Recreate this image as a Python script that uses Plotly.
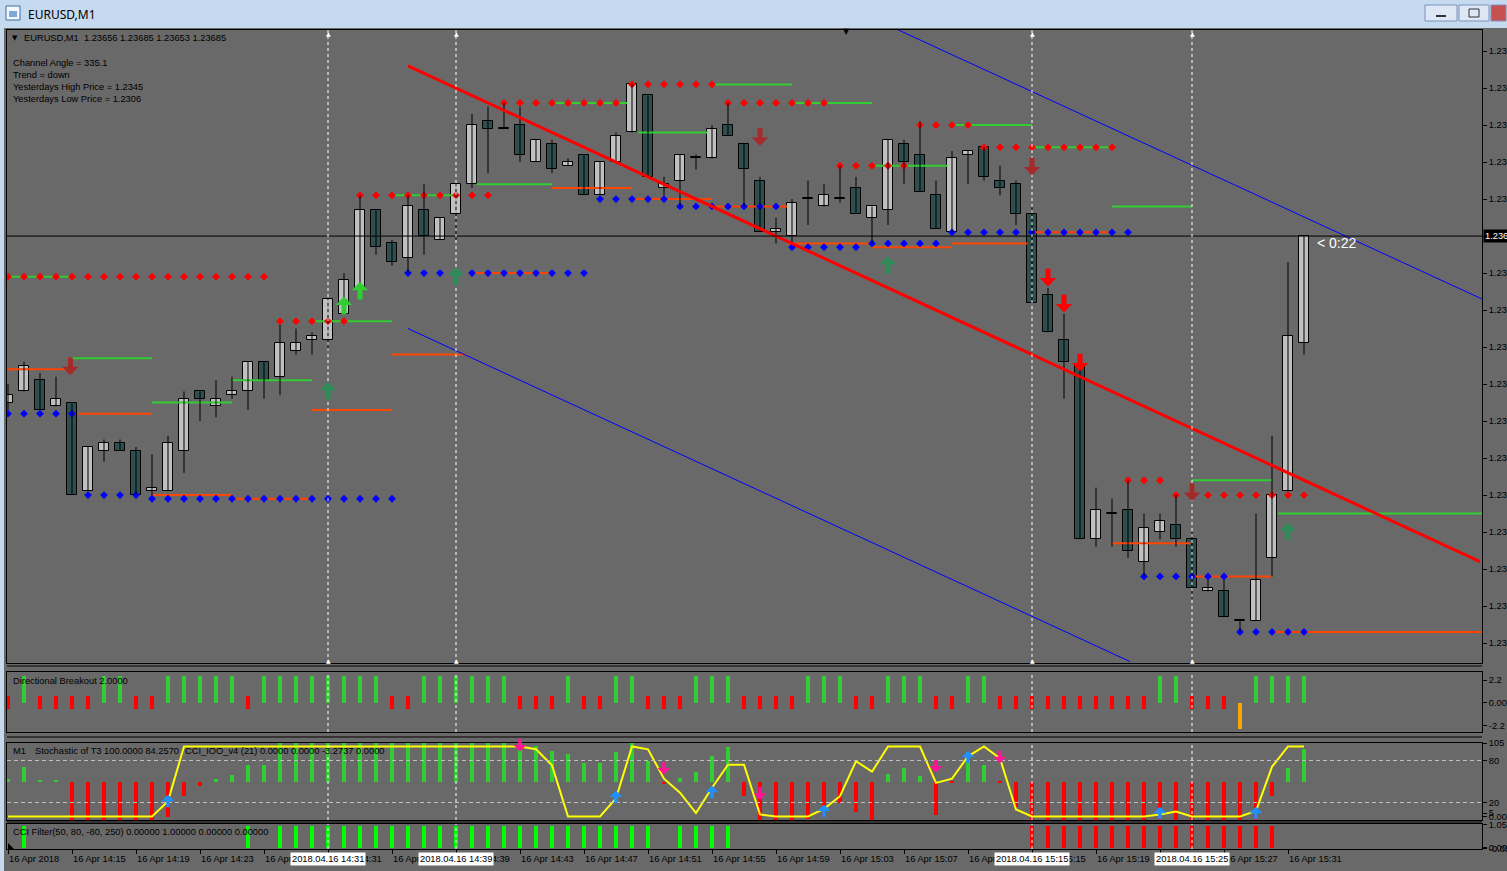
import plotly.graph_objects as go

W, H = 1507, 871

# ---------------- data (EURUSD M1, 16 Apr 2018, bars 14:11 .. 15:32) ----------------
bars = list(range(82))

opens = [1.23640, 1.23643, 1.23646, 1.23639, 1.23640, 1.23616, 1.23627, 1.23629, 1.23627, 1.23616,
         1.23616, 1.23627, 1.23643, 1.23639, 1.23642, 1.23643, 1.23651, 1.23647, 1.23654, 1.23657,
         1.23657, 1.23664, 1.23671, 1.23692, 1.23683, 1.23679, 1.23692, 1.23684, 1.23691, 1.23699,
         1.23716, 1.23714, 1.23715, 1.23705, 1.23710, 1.23704, 1.23707, 1.23696, 1.23705, 1.23713,
         1.23723, 1.23698, 1.23700, 1.23706, 1.23706, 1.23715, 1.23710, 1.23700, 1.23686, 1.23685,
         1.23695, 1.23693, 1.23695, 1.23698, 1.23690, 1.23692, 1.23710, 1.23707, 1.23696, 1.23686,
         1.23707, 1.23709, 1.23700, 1.23699, 1.23691, 1.23669, 1.23657, 1.23650, 1.23603, 1.23610,
         1.23611, 1.23597, 1.23605, 1.23607, 1.23603, 1.23589, 1.23589, 1.23581, 1.23581, 1.23598,
         1.23616, 1.23656]
highs = [1.23645, 1.23651, 1.23648, 1.23647, 1.23640, 1.23628, 1.23630, 1.23630, 1.23628, 1.23626,
         1.23631, 1.23643, 1.23643, 1.23646, 1.23647, 1.23651, 1.23651, 1.23661, 1.23660, 1.23659,
         1.23668, 1.23675, 1.23696, 1.23692, 1.23684, 1.23696, 1.23699, 1.23690, 1.23699, 1.23718,
         1.23720, 1.23721, 1.23720, 1.23711, 1.23711, 1.23706, 1.23707, 1.23705, 1.23713, 1.23726,
         1.23723, 1.23701, 1.23707, 1.23707, 1.23715, 1.23721, 1.23710, 1.23701, 1.23690, 1.23695,
         1.23700, 1.23699, 1.23704, 1.23701, 1.23693, 1.23711, 1.23711, 1.23716, 1.23700, 1.23708,
         1.23708, 1.23709, 1.23704, 1.23700, 1.23693, 1.23671, 1.23664, 1.23650, 1.23617, 1.23614,
         1.23619, 1.23610, 1.23610, 1.23615, 1.23605, 1.23592, 1.23592, 1.23581, 1.23610, 1.23631,
         1.23678, 1.23685]
lows = [1.23638, 1.23643, 1.23638, 1.23639, 1.23615, 1.23616, 1.23624, 1.23627, 1.23615, 1.23615,
        1.23616, 1.23621, 1.23635, 1.23636, 1.23641, 1.23638, 1.23641, 1.23642, 1.23653, 1.23653,
        1.23654, 1.23664, 1.23671, 1.23680, 1.23677, 1.23675, 1.23680, 1.23684, 1.23684, 1.23698,
        1.23702, 1.23714, 1.23705, 1.23705, 1.23702, 1.23704, 1.23696, 1.23696, 1.23705, 1.23713,
        1.23701, 1.23696, 1.23693, 1.23703, 1.23706, 1.23712, 1.23693, 1.23686, 1.23683, 1.23683,
        1.23688, 1.23693, 1.23694, 1.23691, 1.23683, 1.23688, 1.23699, 1.23697, 1.23687, 1.23686,
        1.23699, 1.23700, 1.23696, 1.23688, 1.23667, 1.23659, 1.23641, 1.23603, 1.23601, 1.23601,
        1.23598, 1.23593, 1.23603, 1.23601, 1.23587, 1.23589, 1.23582, 1.23578, 1.23581, 1.23593,
        1.23616, 1.23653]
closes = [1.23642, 1.23650, 1.23638, 1.23641, 1.23615, 1.23628, 1.23629, 1.23627, 1.23615, 1.23617,
          1.23629, 1.23641, 1.23641, 1.23641, 1.23643, 1.23651, 1.23646, 1.23656, 1.23656, 1.23658,
          1.23668, 1.23673, 1.23692, 1.23682, 1.23678, 1.23693, 1.23685, 1.23690, 1.23699, 1.23715,
          1.23714, 1.23714, 1.23707, 1.23711, 1.23703, 1.23705, 1.23696, 1.23705, 1.23712, 1.23726,
          1.23701, 1.23699, 1.23707, 1.23706, 1.23714, 1.23712, 1.23703, 1.23686, 1.23687, 1.23694,
          1.23695, 1.23696, 1.23695, 1.23691, 1.23693, 1.23711, 1.23705, 1.23697, 1.23687, 1.23706,
          1.23708, 1.23701, 1.23698, 1.23691, 1.23667, 1.23659, 1.23651, 1.23603, 1.23611, 1.23610,
          1.23600, 1.23606, 1.23608, 1.23603, 1.23590, 1.23590, 1.23582, 1.23581, 1.23592, 1.23615,
          1.23658, 1.23685]
bid_price = 1.23685

# support / resistance dot rows: (first bar, last bar, price)
resistance_dots = [(0, 16, 1.23674), (17, 21, 1.23662), (22, 30, 1.23696), (31, 38, 1.23721),
                   (39, 44, 1.23726), (45, 51, 1.23721), (52, 56, 1.23704), (57, 60, 1.23715),
                   (61, 69, 1.23709), (70, 72, 1.23619), (73, 81, 1.23615)]
support_dots = [(0, 4, 1.23637), (5, 8, 1.23615), (9, 24, 1.23614), (25, 36, 1.23675),
                (37, 41, 1.23695), (42, 48, 1.23693), (49, 53, 1.23682), (54, 58, 1.23683),
                (59, 70, 1.23686), (71, 76, 1.23593), (77, 81, 1.23578)]
# level segments: (from bar, to bar, price)
green_levels = [(0, 4, 1.23674), (4, 9, 1.23652), (9, 14, 1.23640), (14, 19, 1.23646), (19, 24, 1.23662),
                (24, 28.25, 1.23696), (29.3, 34, 1.23699), (34, 38.7, 1.23721), (39.4, 43.7, 1.23713),
                (44, 49, 1.23726), (49, 54, 1.23721), (54, 58.7, 1.23704), (59, 64, 1.23715),
                (64, 69, 1.23709), (69, 74, 1.23693), (74, 79, 1.23619), (79.4, 92.2, 1.23610)]
orange_levels = [(0, 3.7, 1.23649), (4.4, 9, 1.23637), (9, 14, 1.23615), (14, 19, 1.23614), (19, 24, 1.23638),
                 (24, 28.6, 1.23653), (29, 34, 1.23675), (34, 39, 1.23698), (39, 44, 1.23695),
                 (44, 48.7, 1.23693), (48.7, 54, 1.23683), (54, 59, 1.23682), (59, 63.7, 1.23683),
                 (64, 69, 1.23686), (69, 73.9, 1.23602), (74, 79, 1.23593), (79, 92.2, 1.23578)]

# regression trend line and channel (bar, price)
trend_bars, trend_prices = [25, 92], [1.23731, 1.23597]
upper_bars, upper_prices = [55.5, 92.125], [1.23741, 1.23668]
lower_bars, lower_prices = [25, 70.125], [1.23660, 1.23570]

# signal arrows (bar, price at arrow centre)
sell_dark_bars, sell_dark_prices = [3.9, 47, 64, 74], [1.23650, 1.23712, 1.23704, 1.23616]
sell_red_bars, sell_red_prices = [65, 66, 67], [1.23674, 1.23667, 1.23651]
buy_lime_bars, buy_lime_prices = [21, 22], [1.23666, 1.23670]
buy_dark_bars, buy_dark_prices = [20, 28, 55, 80], [1.23643, 1.23674, 1.23677, 1.23605]

# Directional Breakout: g = up, r = down, o = exhaustion
db_state = list("rgrrrrggrr" "gggggrgggg" "ggggrrgggg" "ggrrrgrrgg" "rrrgggrrrr"
                "gggrrgggrr" "ggrrrrrrrr" "rrggrrrogg" "gg")
db_up, db_dn_top, db_dn_bot, db_exh = 2.58, 0.67, -0.57, -2.5

# CCI_IOO histogram (centred at 50) and Stochastic of T3 line
cci_hist = [54, 71, 52, 52, -5, -5, -5, -5, -5, -5,
            0, 30, 44, 54, 60, 74, 74, 105, 105, 105,
            105, 105, 105, 105, 105, 105, 105, 105, 105, 105,
            105, 105, 105, 101, 93, 90, 77, 77, 92, 105,
            80, 46, 55, 64, 87, 100, 30, -5, -5, -5,
            -3, 0, 20, 6, -5, 61, 70, 58, 2, 48,
            81, 74, 48, 14, -5, -5, -5, -5, -5, -5,
            -5, -5, -5, -5, -5, -5, -5, -5, -5, 30,
            69, 96]
stoch_t3 = [0, 0, 0, 0, 0, 0, 0, 0, 0, 0,
            22, 100, 100, 100, 100, 100, 100, 100, 100, 100,
            100, 100, 100, 100, 100, 100, 100, 100, 100, 100,
            100, 100, 100, 96, 73, 0, 0, 0, 26, 100,
            96, 54, 34, 5, 41, 74, 74, 3, 0, 0,
            0, 11, 29, 79, 64, 100, 100, 100, 48, 54,
            86, 100, 83, 10, 0, 0, 0, 0, 0, 0,
            0, 0, 3, 7, 0, 0, 0, 0, 8, 71,
            100, 100]
stoch_up_bars, stoch_up_vals = [10, 38, 44, 51, 60, 72, 78], [21, 27, 34, 7, 84, 4, 4]
stoch_dn_bars, stoch_dn_vals = [32, 41, 47, 58, 62, 74], [103, 70, 34, 73, 86, 3]

# CCI Filter: 1 = bullish, -1 = bearish, 0 = none
cci_filter = ([0, 1] + [0] * 13 + [1, 0] + [1] * 24 + [0] + [1] * 4 + [0] * 18 + [-1] * 16 + [0] * 2)

# axis labels
price_ticks = [1.23735, 1.23725, 1.23715, 1.23705, 1.23695, 1.23685, 1.23675, 1.23665, 1.23655,
               1.23645, 1.23635, 1.23625, 1.23615, 1.23605, 1.23595, 1.23585, 1.23575]
time_tick_bars = [0, 4, 8, 12, 16, 20, 24, 28, 32, 36, 40, 44, 48, 52, 56, 60, 64, 68, 72, 76, 80]
time_tick_labels = ["16 Apr 2018", "16 Apr 14:15", "16 Apr 14:19", "16 Apr 14:23", "16 Apr 14:27",
                    "16 Apr 14:31", "16 Apr 14:35", "16 Apr 14:39", "16 Apr 14:43", "16 Apr 14:47",
                    "16 Apr 14:51", "16 Apr 14:55", "16 Apr 14:59", "16 Apr 15:03", "16 Apr 15:07",
                    "16 Apr 15:11", "16 Apr 15:15", "16 Apr 15:19", "16 Apr 15:23", "16 Apr 15:27",
                    "16 Apr 15:31"]
vline_bars = [20, 28, 64, 74]
vline_labels = ["2018.04.16 14:31", "2018.04.16 14:39", "2018.04.16 15:15", "2018.04.16 15:25"]

# ---------------- figure ----------------
FONT = "Liberation Sans"
FS = 9.3
BG = "#696969"
fig = go.Figure()

Y_MAIN = [1.235696, 1.237407]
Y_STO = [-5, 105]
MAIN_PX = 663 - 30
STO_PX = 820 - 743
P_PER_PX = (Y_MAIN[1] - Y_MAIN[0]) / MAIN_PX
S_PER_PX = (Y_STO[1] - Y_STO[0]) / STO_PX


def segs(levels):
    xs, ys = [], []
    for a, b, p in levels:
        xs += [a, b, None]
        ys += [p, p, None]
    return xs, ys


def dotrow(rows):
    xs, ys = [], []
    for a, b, p in rows:
        for k in range(a, b + 1):
            xs.append(k)
            ys.append(p)
    return xs, ys


def sc(**kw):
    kw.setdefault("hoverinfo", "skip")
    fig.add_trace(go.Scatter(**kw))


# main: levels
x_, y_ = segs(orange_levels)
sc(x=x_, y=y_, mode="lines", line=dict(color="#FF4500", width=2), xaxis="x", yaxis="y")
x_, y_ = segs(green_levels)
sc(x=x_, y=y_, mode="lines", line=dict(color="#32CD32", width=2), xaxis="x", yaxis="y")
x_, y_ = dotrow(resistance_dots)
sc(x=x_, y=y_, mode="markers", marker=dict(symbol="diamond", size=6, color="#FF0000"), xaxis="x", yaxis="y")
x_, y_ = dotrow(support_dots)
sc(x=x_, y=y_, mode="markers", marker=dict(symbol="diamond", size=6, color="#0000FF"), xaxis="x", yaxis="y")

# candles
wx, wy = [], []
for k, h, l in zip(bars, highs, lows):
    wx += [k, k, None]
    wy += [l, h, None]
sc(x=wx, y=wy, mode="lines", line=dict(color="black", width=1), xaxis="x", yaxis="y")

MINH = 0.0000025
bull = [(k, o, c) for k, o, c in zip(bars, opens, closes) if c >= o]
bear = [(k, o, c) for k, o, c in zip(bars, opens, closes) if c < o]
fig.add_trace(go.Bar(x=[b[0] for b in bull], base=[b[1] for b in bull],
                     y=[max(b[2] - b[1], MINH) for b in bull], width=0.62,
                     marker=dict(color="#C0C0C0", line=dict(color="black", width=1)),
                     xaxis="x", yaxis="y", hoverinfo="skip"))
fig.add_trace(go.Bar(x=[b[0] for b in bear], base=[b[2] for b in bear],
                     y=[max(b[1] - b[2], MINH) for b in bear], width=0.62,
                     marker=dict(color="#2F4F4F", line=dict(color="black", width=1)),
                     xaxis="x", yaxis="y", hoverinfo="skip"))

# trend + channel
sc(x=upper_bars, y=upper_prices, mode="lines", line=dict(color="#0000FF", width=1), xaxis="x", yaxis="y")
sc(x=lower_bars, y=lower_prices, mode="lines", line=dict(color="#0000FF", width=1), xaxis="x", yaxis="y")
sc(x=trend_bars, y=trend_prices, mode="lines", line=dict(color="#FF0000", width=3), xaxis="x", yaxis="y")

# Directional Breakout panel
gk = [k for k, s in zip(bars, db_state) if s == "g"]
rk = [k for k, s in zip(bars, db_state) if s == "r"]
okk = [k for k, s in zip(bars, db_state) if s == "o"]
fig.add_trace(go.Bar(x=gk, y=[db_up] * len(gk), base=0, width=0.19, marker=dict(color="#32CD32", line=dict(width=0)),
                     xaxis="x2", yaxis="y2", hoverinfo="skip"))
fig.add_trace(go.Bar(x=rk, y=[db_dn_top - db_dn_bot] * len(rk), base=db_dn_bot, width=0.19,
                     marker=dict(color="#FF0000", line=dict(width=0)), xaxis="x2", yaxis="y2", hoverinfo="skip"))
fig.add_trace(go.Bar(x=okk, y=[db_exh] * len(okk), base=0, width=0.19, marker=dict(color="#FFA500", line=dict(width=0)),
                     xaxis="x2", yaxis="y2", hoverinfo="skip"))

# Stochastic / CCI_IOO panel
hg = [(k, v) for k, v in zip(bars, cci_hist) if v > 50]
hr = [(k, v) for k, v in zip(bars, cci_hist) if v <= 50]
fig.add_trace(go.Bar(x=[a for a, _ in hg], y=[v - 50 for _, v in hg], base=50, width=0.19,
                     marker=dict(color="#32CD32", line=dict(width=0)), xaxis="x3", yaxis="y3", hoverinfo="skip"))
fig.add_trace(go.Bar(x=[a for a, _ in hr], y=[v - 50 for _, v in hr], base=50, width=0.19,
                     marker=dict(color="#FF0000", line=dict(width=0)), xaxis="x3", yaxis="y3", hoverinfo="skip"))
sc(x=bars, y=stoch_t3, mode="lines", line=dict(color="#FFFF00", width=2), xaxis="x3", yaxis="y3")

# CCI filter panel
fg = [k for k, v in zip(bars, cci_filter) if v > 0]
fr = [k for k, v in zip(bars, cci_filter) if v < 0]
fig.add_trace(go.Bar(x=fg, y=[1] * len(fg), base=0, width=0.3, marker=dict(color="#00FF00", line=dict(width=0)),
                     xaxis="x4", yaxis="y4", hoverinfo="skip"))
fig.add_trace(go.Bar(x=fr, y=[1] * len(fr), base=0, width=0.3, marker=dict(color="#FF0000", line=dict(width=0)),
                     xaxis="x4", yaxis="y4", hoverinfo="skip"))

# ---------------- layout ----------------
def py(p):
    return 1 - p / H


def px(p):
    return p / W


XDOM = [px(7), px(1482)]
XR = [-0.0625, 92.125]
TF = dict(family=FONT, size=FS, color="black")
xc = dict(domain=XDOM, range=XR, showgrid=False, zeroline=False, showline=True, mirror=True,
          linecolor="black", linewidth=1, showticklabels=False, fixedrange=True, automargin=False)
yc = dict(side="right", showgrid=False, zeroline=False, showline=True, mirror=True, linecolor="black",
          linewidth=1, ticks="outside", ticklen=4, tickcolor="black", tickfont=TF, fixedrange=True,
          automargin=False)

fig.update_layout(
    width=W, height=H, autosize=False, margin=dict(l=0, r=0, t=0, b=0, pad=0, autoexpand=False),
    paper_bgcolor=BG, plot_bgcolor=BG, showlegend=False, barmode="overlay", bargap=0,
    xaxis=dict(anchor="y", **xc),
    xaxis2=dict(anchor="y2", **xc),
    xaxis3=dict(anchor="y3", **xc),
    xaxis4=dict(anchor="y4", ticks="outside", tickvals=time_tick_bars, ticklen=4, tickcolor="black", **xc),
    yaxis=dict(anchor="x", domain=[py(663), py(30)], range=Y_MAIN, tickvals=price_ticks,
               ticktext=[f"{v:.5f}" for v in price_ticks], **yc),
    yaxis2=dict(anchor="x2", domain=[py(732), py(672)], range=[-2.78, 2.97], tickvals=[2.2, 0, -2.2],
                ticktext=["2.2", "0.00", "-2.2"], **yc),
    yaxis3=dict(anchor="x3", domain=[py(820), py(743)], range=Y_STO, tickvals=[105, 80, 20, 5, 0],
                ticktext=["105", "80", "20", "5", "0.00"], **yc),
    yaxis4=dict(anchor="x4", domain=[py(849), py(824)], range=[-0.059, 1.077], tickvals=[1.05, -0.05, 0],
                ticktext=["1.05", "-0.05", "0.00"], **yc),
)

shapes = []
# window chrome
shapes.append(dict(type="rect", xref="paper", yref="paper", x0=0, x1=1, y0=py(28), y1=1,
                   fillcolor="#C5D9EF", line=dict(width=0), layer="below"))
shapes.append(dict(type="rect", xref="paper", yref="paper", x0=0, x1=px(4), y0=0, y1=py(28),
                   fillcolor="#C5D9EF", line=dict(width=0), layer="below"))
shapes.append(dict(type="rect", xref="paper", yref="paper", x0=px(6), x1=px(20), y0=py(20), y1=py(6),
                   fillcolor="#F4F8FE", line=dict(color="#3A6EA5", width=1)))
shapes.append(dict(type="rect", xref="paper", yref="paper", x0=px(9), x1=px(17), y0=py(17), y1=py(11),
                   fillcolor="#7FA7D9", line=dict(width=0)))
for x0, x1, fc in [(1425, 1457, "#DDE7F5"), (1459, 1489, "#DDE7F5"), (1491, 1506, "#C75050")]:
    shapes.append(dict(type="rect", xref="paper", yref="paper", x0=px(x0), x1=px(x1), y0=py(21), y1=py(5),
                       fillcolor=fc, line=dict(color="#7A92B8", width=1)))
shapes.append(dict(type="rect", xref="paper", yref="paper", x0=px(1436), x1=px(1446), y0=py(17), y1=py(15),
                   fillcolor="#333333", line=dict(width=0)))
shapes.append(dict(type="rect", xref="paper", yref="paper", x0=px(1469), x1=px(1479), y0=py(17), y1=py(9),
                   fillcolor="rgba(0,0,0,0)", line=dict(color="#333333", width=1)))
# panel separators
for yy in [666, 737, 822]:
    shapes.append(dict(type="line", xref="paper", yref="paper", x0=XDOM[0], x1=XDOM[1], y0=py(yy), y1=py(yy),
                       line=dict(color="black", width=1)))
# bid line
shapes.append(dict(type="line", xref="x domain", yref="y", x0=0, x1=1, y0=bid_price, y1=bid_price,
                   line=dict(color="black", width=1)))
# stochastic levels
for lv in [80, 20]:
    shapes.append(dict(type="line", xref="x3 domain", yref="y3", x0=0, x1=1, y0=lv, y1=lv,
                       line=dict(color="#C0C0C0", width=1, dash="4px,3px")))
# vertical dashed markers
for b in vline_bars:
    for ax in ["y", "y2", "y3", "y4"]:
        shapes.append(dict(type="line", xref="x", yref=f"{ax} domain", x0=b, x1=b, y0=0, y1=1,
                           line=dict(color="white", width=1, dash="3px,3px")))
# corner mark of filter panel
shapes.append(dict(type="path", xref="paper", yref="paper",
                   path=f"M {px(8)},{py(843)} L {px(8)},{py(849)} L {px(14)},{py(849)} Z",
                   fillcolor="black", line=dict(width=0)))
fig.update_layout(shapes=shapes)

ann = []


def A(x, y, text, xref="paper", yref="paper", size=FS, color="black", xanchor="left", family=FONT, **kw):
    ann.append(dict(x=x, y=y, xref=xref, yref=yref, text=text, showarrow=False, xanchor=xanchor,
                    yanchor="middle", font=dict(family=family, size=size, color=color), **kw))


def arrow(x, yc, up, color, yref, per_px, length, width, size):
    half = length / 2.0
    tip = yc + half * per_px if up else yc - half * per_px
    ann.append(dict(x=x, y=tip, xref="x" if yref == "y" else "x3", yref=yref, text="", showarrow=True,
                    ax=0, ay=length if up else -length, arrowhead=1, arrowsize=size, arrowwidth=width,
                    arrowcolor=color, standoff=0, startstandoff=0, font=dict(size=1)))


for xs, ys, up, col in [(sell_dark_bars, sell_dark_prices, False, "#A52A2A"),
                        (sell_red_bars, sell_red_prices, False, "#FF0000"),
                        (buy_lime_bars, buy_lime_prices, True, "#32CD32"),
                        (buy_dark_bars, buy_dark_prices, True, "#2E8B57")]:
    for xv, yv in zip(xs, ys):
        arrow(xv, yv, up, col, "y", P_PER_PX, 19, 5, 0.55)
for xv, yv in zip(stoch_up_bars, stoch_up_vals):
    arrow(xv, yv, True, "#1E90FF", "y3", S_PER_PX, 14, 3.5, 0.62)
for xv, yv in zip(stoch_dn_bars, stoch_dn_vals):
    arrow(xv, yv, False, "#FF1493", "y3", S_PER_PX, 14, 3.5, 0.62)

A(px(26), py(14), "EURUSD,M1", size=12, family="Noto Sans")
A(px(10), py(38), "▼", size=7, family="DejaVu Sans")
A(px(22), py(38), "EURUSD,M1\u00a0\u00a01.23656 1.23685 1.23653 1.23685")
for yy, t in [(63, "Channel Angle = 335.1"), (75, "Trend = down"),
              (87, "Yesterdays High Price = 1.2345"), (99, "Yesterdays Low Price = 1.2306")]:
    A(px(11), py(yy), t)
A(px(11), py(681), "Directional Breakout 2.0000")
A(px(11), py(751), "M1")
A(px(33), py(751), "Stochastic of T3 100.0000 84.2570")
A(px(183), py(751), "CCI_IOO_v4 (21) 0.0000 0.0000 -3.2737 0.0000")
A(px(11), py(832), "CCI Filter(50, 80, -80, 250) 0.00000 1.00000 0.00000 0.00000")
A(81.7, 1.23683, "< 0:22", xref="x", yref="y", size=14, color="white")
A(px(1483), bid_price, "1.23685", yref="y", color="white", bgcolor="black", borderpad=1)
A(52.375, py(32), "▼", xref="x", size=8, xanchor="center", family="DejaVu Sans")
for b in vline_bars:
    A(b, py(33), "▲", xref="x", size=6, color="white", xanchor="center", family="DejaVu Sans")
    A(b, py(660), "▲", xref="x", size=6, color="white", xanchor="center", family="DejaVu Sans")
for b, t in zip(time_tick_bars, time_tick_labels):
    A(b - 0.05, py(859), t, xref="x4")
for b, t in zip(vline_bars, vline_labels):
    A(b, py(859), t, xref="x4", xanchor="center", bgcolor="white", borderpad=1)
fig.update_layout(annotations=ann)

fig.write_html("out.html", config={"displayModeBar": False, "responsive": False},
               post_script="document.body.style.margin='0';document.documentElement.style.overflow='hidden';document.body.style.overflow='hidden';")
